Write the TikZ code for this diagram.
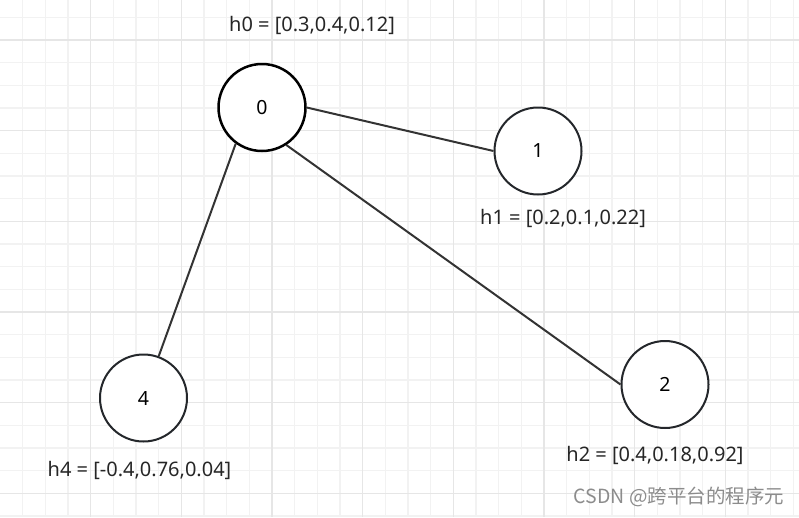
\documentclass[tikz,border=0pt]{standalone}
\usepackage{fontspec}
\setmainfont{Noto Sans}
\newfontfamily\cjk{Noto Sans CJK SC}
\usetikzlibrary{positioning}
\definecolor{gridminor}{RGB}{242,242,242}
\definecolor{gridmajor}{RGB}{230,230,230}
\definecolor{edgegray}{RGB}{51,51,51}
\definecolor{nodeline}{RGB}{36,39,43}

\begin{document}
\begin{tikzpicture}[x=1pt,y=-1pt,
    vertex/.style={circle,draw=nodeline,line width=2pt,fill=white,minimum size=87pt,inner sep=0pt,font=\fontsize{19.5}{22}\selectfont},
    hlabel/.style={font=\fontsize{20}{23}\selectfont,text=black!85},
    edge/.style={draw=edgegray,line width=2pt}]
  \useasboundingbox (0,0) rectangle (799,517);
  \def\gs{22.667}
  % background grid
  \foreach \k in {1,...,35}
    \draw[gridminor,line width=1.3pt] (\k*\gs,0) -- (\k*\gs,517);
  \foreach \k in {0,...,22}
    \draw[gridminor,line width=1.3pt] (0,17.33+\k*\gs) -- (799,17.33+\k*\gs);
  \foreach \k in {1,...,8}
    \draw[gridmajor,line width=1.3pt] (4*\k*\gs,0) -- (4*\k*\gs,517);
  \foreach \k in {0,...,5}
    \draw[gridmajor,line width=1.3pt] (0,40+4*\k*\gs) -- (799,40+4*\k*\gs);
  % graph
  \node[vertex,draw=black,line width=2.5pt] (v0) at (262,107.5) {0};
  \node[vertex] (v1) at (538,151) {1};
  \node[vertex] (v2) at (665,384.5) {2};
  \node[vertex] (v4) at (143.5,398) {4};
  \draw[edge] (v0.east) -- (v1.west);
  \draw[edge] (v0.-57) -- (v2.west);
  \draw[edge] (v0.-126) -- (v4.70);
  % features
  \node[hlabel] (h0) at (312,25) {h0 = [0.3,0.4,0.12]};
  \node[hlabel] (h1) at (563,218) {h1 = [0.2,0.1,0.22]};
  \node[hlabel] (h2) at (655,455) {h2 = [0.4,0.18,0.92]};
  \node[hlabel] (h4) at (139.5,470) {h4 = [-0.4,0.76,0.04]};
  \node[font=\cjk\fontsize{19.5}{22}\selectfont,text=black!45] (mark) at (679,497) {CSDN @跨平台的程序元};
\end{tikzpicture}
\end{document}
